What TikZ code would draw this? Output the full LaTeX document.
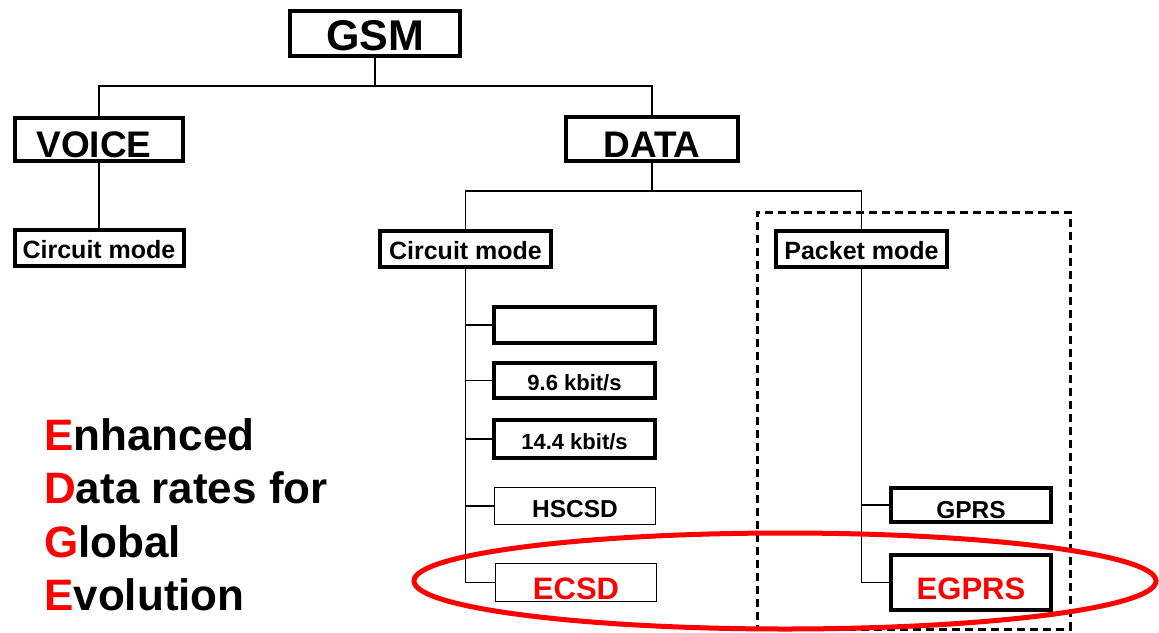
\documentclass[tikz,border=0pt]{standalone}
\usepackage{fontspec}
\setmainfont{Liberation Sans}
\usepackage{tikz}
\usetikzlibrary{shapes.geometric}
\usetikzlibrary{fit}
\usetikzlibrary{positioning}
\tikzset{every fit/.style={shape=rectangle,inner sep=17pt}}
\tikzset{box/.style={draw=black, line width=4pt, inner sep=0pt, text depth=0pt}}
\tikzset{thinbox/.style={box, line width=1.3pt}}
\tikzset{link/.style={draw=black, line width=1.2pt}}
\tikzset{edgeline/.style={font=\boxfont{44}, inner sep=0pt, anchor=base west}}
\newcommand{\boxfont}[1]{\fontsize{#1}{#1}\selectfont\bfseries}

\begin{document}
\begin{tikzpicture}[x=1pt,y=-1pt]
		\useasboundingbox (0,0) rectangle (1159,632);
		\node[box, minimum width=170pt, minimum height=45pt, text height=34pt, font=\boxfont{43}] (A) at (375,33.5) {GSM};
		\node[box, minimum width=168pt, minimum height=43pt, text height=36pt, font=\boxfont{37}] (B) at (99,139.5) {VOICE\hspace*{10pt}};
		\node[box, minimum width=172pt, minimum height=44pt, text height=36pt, font=\boxfont{37}] (C) at (652,139) {DATA};
		\node[box, minimum width=169pt, minimum height=36pt, text height=21pt, font=\boxfont{25}] (D) at (99,248) {Circuit mode};
		\node[box, minimum width=171pt, minimum height=36pt, text height=21pt, font=\boxfont{25}] (E) at (465.5,249) {Circuit mode};
		\node[box, minimum width=171pt, minimum height=36pt, text height=21pt, font=\boxfont{25}] (F) at (861.5,249) {Packet mode};
		\node[box, minimum width=161pt, minimum height=36pt] (G) at (574.5,325) {};
		\node[box, minimum width=161pt, minimum height=35pt, text height=20pt, font=\boxfont{22}] (H) at (574.5,380.5) {9.6 kbit/s};
		\node[box, minimum width=161pt, minimum height=38pt, text height=20pt, font=\boxfont{22}] (I) at (574.5,439) {14.4 kbit/s};
		\node[thinbox, minimum width=160.7pt, minimum height=36.7pt, text height=22pt, font=\boxfont{24.5}] (J) at (575,506) {HSCSD};
		\node[thinbox, minimum width=160.7pt, minimum height=37.7pt, text height=34pt, font=\boxfont{31}, text=red] (K) at (576,582.5) {ECSD};
		\node[box, minimum width=160pt, minimum height=34pt, text height=26pt, font=\boxfont{24.5}] (L) at (971,505) {GPRS};
		\node[box, minimum width=160pt, minimum height=55pt, text height=34pt, font=\boxfont{31}, text=red] (M) at (971,582.5) {EGPRS};
		\draw[link] (A.south) -- ++(0,28) coordinate (a1);
		\draw[link] (B.north) |- (a1) -| (C.north);
		\draw[link] (B) -- (D);
		\draw[link] (C.south) -- ++(0,28) coordinate (b1);
		\draw[link] (E.north) |- (b1) -| (F.north);
		\draw[link] (E.south) |- (K.west);
		\draw[link] (G.west) -- (G.west -| E.south);
		\draw[link] (H.west) -- (H.west -| E.south);
		\draw[link] (I.west) -- (I.west -| E.south);
		\draw[link] (J.west) -- (J.west -| E.south);
		\draw[link] (F.south) |- (M.west);
		\draw[link] (L.west) -- (L.west -| F.south);
		\node[fit=(F)(L)(M), draw=black, line width=3pt, dash pattern=on 8pt off 5pt] (N) {};
		\node[edgeline] (P) at (44,450) {\textcolor{red}{E}nhanced};
		\node[edgeline] (Q) at (44,503.5) {\textcolor{red}{D}ata rates for};
		\node[edgeline] (R) at (44,557) {\textcolor{red}{G}lobal};
		\node[edgeline] (S) at (44,610) {\textcolor{red}{E}volution};
		\node[ellipse, draw=red, line width=5pt, inner sep=0pt, minimum width=742pt, minimum height=96pt] (O) at (785,581) {};
	\end{tikzpicture}
\end{document}
